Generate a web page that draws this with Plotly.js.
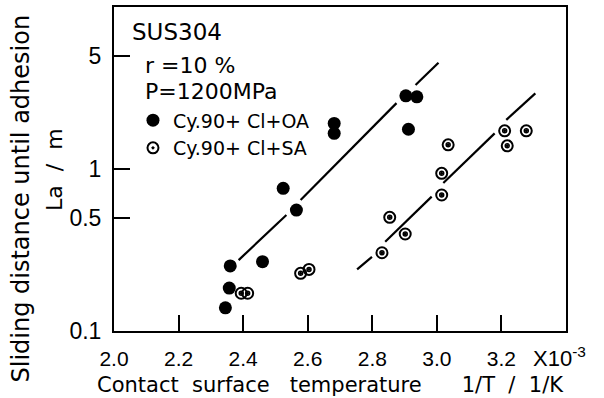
<!DOCTYPE html>
<html>
<head>
<meta charset="utf-8">
<script src="https://cdn.plot.ly/plotly-3.0.1.min.js"></script>
<style>html,body{margin:0;padding:0;background:#fff;}#chart{width:604px;height:398px;}</style>
</head>
<body>
<div id="chart"></div>
<script>
// 1/T (x10^-3 1/K) and La (m)
const oaX = [2.345, 2.357, 2.360, 2.460, 2.524, 2.565, 2.682, 2.682, 2.904, 2.938, 2.912];
const oaY = [0.139, 0.184, 0.252, 0.268, 0.760, 0.558, 1.91, 1.66, 2.83, 2.79, 1.76];
const saX = [2.394, 2.414, 2.578, 2.604, 2.830, 2.854, 2.902, 3.015, 3.015, 3.035, 3.210, 3.218, 3.277];
const saY = [0.171, 0.171, 0.227, 0.240, 0.304, 0.503, 0.397, 0.691, 0.940, 1.41, 1.72, 1.39, 1.72];
// fitted lines (broken where they pass the markers)
const oaFitX = [2.386, 2.534, null, 2.578, 2.875, null, 2.934, 3.005];
const oaFitY = [0.274, 0.520, null, 0.644, 2.55, null, 3.30, 4.53];
const saFitX = [2.753, 2.799, null, 2.840, 2.984, null, 3.020, 3.179, null, 3.215, 3.305];
const saFitY = [0.240, 0.287, null, 0.356, 0.675, null, 0.819, 1.66, null, 2.01, 2.93];
// axes
const xTickVals = [2.0, 2.2, 2.4, 2.6, 2.8, 3.0, 3.2];
const xTickText = ['2.0', '2.2', '2.4', '2.6', '2.8', '3.0', '3.2'];
const yTickVals = [0.1, 0.5, 1, 5];
const yTickText = ['0.1', '0.5', '1', '5'];
const seriesNames = ['Cy.90+ Cl+OA', 'Cy.90+ Cl+SA'];

const black = '#000';
const nb = '\u00a0';
const textFont = {family: 'DejaVu Sans, sans-serif', size: 22, color: black};

const traces = [
  {x: oaFitX, y: oaFitY, mode: 'lines', line: {color: black, width: 2.2}, showlegend: false, hoverinfo: 'skip', connectgaps: false},
  {x: saFitX, y: saFitY, mode: 'lines', line: {color: black, width: 2.2}, showlegend: false, hoverinfo: 'skip', connectgaps: false},
  {x: oaX, y: oaY, mode: 'markers', name: seriesNames[0],
   marker: {symbol: 'circle', size: 13, color: black}},
  {x: saX, y: saY, mode: 'markers', name: seriesNames[1], legendgroup: 'sa',
   marker: {symbol: 'circle-open-dot', size: 11, color: black, line: {width: 2, color: black}}},
  {x: saX, y: saY, mode: 'markers', name: seriesNames[1], legendgroup: 'sa', showlegend: false,
   marker: {symbol: 'circle-open', size: 4, color: black, line: {width: 1.5, color: black}}}
];

const layout = {
  width: 604, height: 398,
  margin: {l: 114, r: 38, t: 7, b: 67},
  paper_bgcolor: '#fff', plot_bgcolor: '#fff',
  font: textFont,
  showlegend: true,
  legend: {x: 0.042, y: 0.709, xanchor: 'left', yanchor: 'top', bgcolor: 'rgba(0,0,0,0)',
           font: {family: 'DejaVu Sans, sans-serif', size: 19, color: black}, tracegroupgap: 0},
  xaxis: {range: [2.0, 3.4], tickmode: 'array', tickvals: xTickVals, ticktext: xTickText,
          ticks: 'inside', ticklen: 16, tickwidth: 2, tickcolor: black,
          showline: true, mirror: true, linewidth: 2, linecolor: black,
          showgrid: false, zeroline: false, ticklabelstandoff: 8,
          tickfont: {family: 'Liberation Sans, Arial, sans-serif', size: 21, color: black}},
  yaxis: {type: 'log', range: [-1, 1], tickmode: 'array', tickvals: yTickVals, ticktext: yTickText,
          ticks: 'inside', ticklen: 16, tickwidth: 2, tickcolor: black,
          showline: true, mirror: true, linewidth: 2, linecolor: black,
          showgrid: false, zeroline: false, ticklabelstandoff: 6,
          tickfont: {family: 'Liberation Sans, Arial, sans-serif', size: 23, color: black}},
  annotations: [
    {text: 'SUS304', xref: 'paper', yref: 'paper', x: 0.0354, y: 0.923, xanchor: 'left', yanchor: 'middle', showarrow: false,
     font: {family: 'DejaVu Sans, sans-serif', size: 23, color: black}},
    {text: 'r =10 %', xref: 'paper', yref: 'paper', x: 0.0642, y: 0.818, xanchor: 'left', yanchor: 'middle', showarrow: false, font: textFont},
    {text: 'P=1200MPa', xref: 'paper', yref: 'paper', x: 0.0642, y: 0.738, xanchor: 'left', yanchor: 'middle', showarrow: false, font: textFont},
    {text: 'X10<sup>-3</sup>', xref: 'paper', yref: 'paper', x: 0.9226, y: -0.08, xanchor: 'left', yanchor: 'middle', showarrow: false,
     font: {family: 'Liberation Sans, Arial, sans-serif', size: 22, color: black}},
    {text: 'Contact' + nb + ' surface' + nb + nb + ' temperature' + nb + nb + nb + nb + nb + ' 1/T' + nb + ' /' + nb + ' 1/K',
     xref: 'paper', yref: 'paper', x: 0.478, y: -0.166,
     xanchor: 'center', yanchor: 'middle', showarrow: false, font: {family: 'DejaVu Sans, sans-serif', size: 21, color: black}},
    {text: 'Sliding distance until adhesion', xref: 'paper', yref: 'paper', x: -0.205, y: 0.41, textangle: -90,
     xanchor: 'center', yanchor: 'middle', showarrow: false, font: {family: 'DejaVu Sans, sans-serif', size: 24, color: black}},
    {text: 'La' + nb + ' /' + nb + ' m', xref: 'paper', yref: 'paper', x: -0.133, y: 0.50, textangle: -90,
     xanchor: 'center', yanchor: 'middle', showarrow: false, font: {family: 'DejaVu Sans, sans-serif', size: 22, color: black}}
  ]
};

Plotly.newPlot('chart', traces, layout, {displayModeBar: false, staticPlot: true});
</script>
</body>
</html>
